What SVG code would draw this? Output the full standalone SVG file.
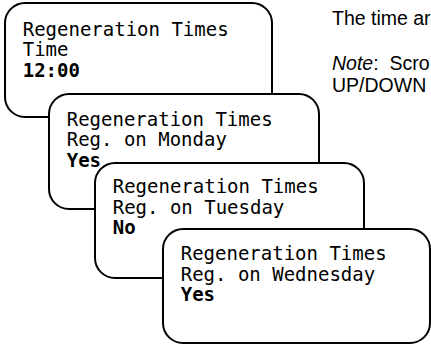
<svg xmlns="http://www.w3.org/2000/svg" width="431" height="344" viewBox="0 0 431 344">
<style>
.box{fill:#fff;stroke:#000;stroke-width:2}
.m{font-family:"DejaVu Sans Mono","Liberation Mono",monospace;font-size:19px;fill:#000}
.b{font-weight:bold}
.t{font-family:"Liberation Sans",Arial,sans-serif;font-size:19.5px;fill:#000}
</style>
<rect width="431" height="344" fill="#fff"/>
<g id="note">
<text class="t" x="332" y="25">The time ar</text>
<text class="t" x="332" y="70"><tspan font-style="italic">Note</tspan>:&#160; Scro</text>
<text class="t" x="332" y="92">UP/DOWN</text>
</g>
<g id="screen-time">
<rect class="box" x="5" y="3" width="267" height="114" rx="20"/>
<text class="m" x="22.7" y="35.5">Regeneration Times</text>
<text class="m" x="22.7" y="56">Time</text>
<text class="m b" x="22.7" y="76.5">12:00</text>
</g>
<g id="screen-monday">
<rect class="box" x="49" y="94" width="270" height="115" rx="20"/>
<text class="m" x="66.7" y="125.7">Regeneration Times</text>
<text class="m" x="66.7" y="146">Reg. on Monday</text>
<text class="m b" x="66.7" y="166.5">Yes</text>
</g>
<g id="screen-tuesday">
<rect class="box" x="95" y="163" width="269" height="115" rx="20"/>
<text class="m" x="112.7" y="193.3">Regeneration Times</text>
<text class="m" x="112.7" y="213.5">Reg. on Tuesday</text>
<text class="m b" x="112.7" y="234">No</text>
</g>
<g id="screen-wednesday">
<rect class="box" x="163" y="229" width="267" height="114" rx="20"/>
<text class="m" x="180.7" y="260">Regeneration Times</text>
<text class="m" x="180.7" y="280.5">Reg. on Wednesday</text>
<text class="m b" x="180.7" y="301">Yes</text>
</g>
</svg>
